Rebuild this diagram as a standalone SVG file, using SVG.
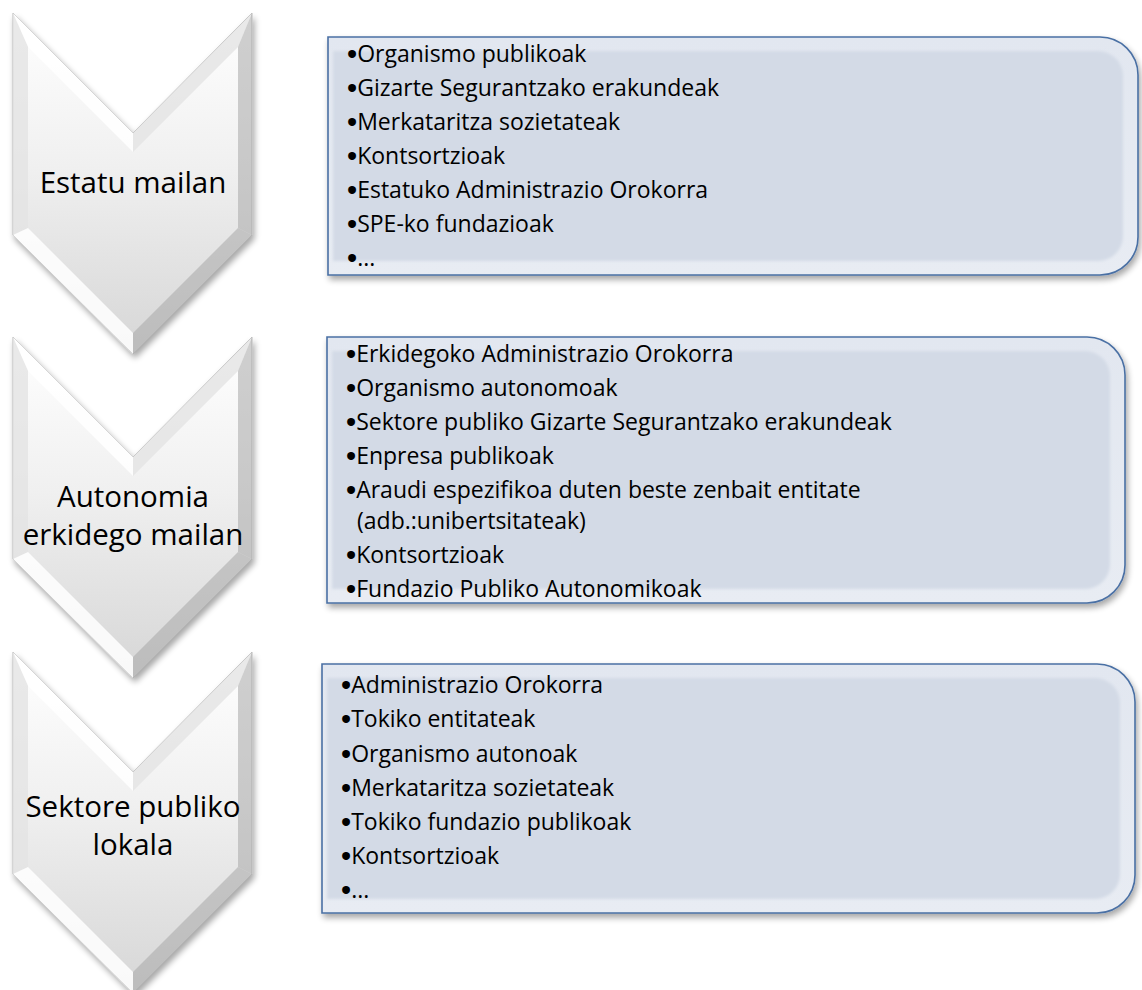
<svg xmlns="http://www.w3.org/2000/svg" width="1142" height="990" viewBox="0 0 1142 990">
<defs>
<linearGradient id="chevG" x1="0" y1="0" x2="0" y2="1">
<stop offset="0" stop-color="#ffffff"/>
<stop offset="0.45" stop-color="#f0f0f0"/>
<stop offset="1" stop-color="#d6d6d6"/>
</linearGradient>
<linearGradient id="boxOuter" x1="0" y1="0" x2="0" y2="1">
<stop offset="0" stop-color="#e2e7f0"/>
<stop offset="1" stop-color="#e8ecf3"/>
</linearGradient>
<filter id="sh" x="-10%" y="-10%" width="130%" height="130%">
<feGaussianBlur in="SourceAlpha" stdDeviation="3"/>
<feOffset dx="2" dy="4" result="b"/>
<feComponentTransfer><feFuncA type="linear" slope="0.35"/></feComponentTransfer>
<feMerge><feMergeNode/><feMergeNode in="SourceGraphic"/></feMerge>
</filter>
<filter id="soft" x="-5%" y="-5%" width="110%" height="110%">
<feGaussianBlur stdDeviation="1.5"/>
</filter>
</defs>
<style>
.lbl{font-family:"Open Sans","DejaVu Sans",sans-serif;font-size:29.5px;fill:#000;text-anchor:middle}
.it{font-family:"Open Sans","DejaVu Sans",sans-serif;font-size:23px;fill:#000}
.b{font-family:"Liberation Sans",Arial,sans-serif;font-size:29px;baseline-shift:-2px}
.bo{fill:url(#boxOuter);stroke:#4a70a4;stroke-width:1.6}
.bi{fill:#d3dae6}
.co{fill:url(#chevG);stroke:#b8b8b8;stroke-width:1}
.fl{fill:#ffffff;opacity:0.85}
.fd{fill:#a8a8a8;opacity:0.55}
.fm{fill:#e4e4e4;opacity:0.8}
</style>

<g id="connectors"></g>

<g id="chevron1">
<g filter="url(#sh)">
<polygon class="co" points="13,13 133,133 252,13 252,235 133,354 13,235"/>
</g>
<polygon class="fl" points="13,13 133,133 133,152 28,47"/>
<polygon class="fm" points="252,13 133,133 133,152 238,47"/>
<polygon class="fm" points="13,13 28,47 28,228 13,235"/>
<polygon class="fd" points="252,13 238,47 238,228 252,235" opacity="0.3"/>
<polygon class="fl" points="13,235 28,228 133,333 133,354"/>
<polygon class="fd" points="252,235 238,228 133,333 133,354"/>
<text class="lbl" x="133" y="193">Estatu mailan</text>
</g>

<g id="chevron2">
<g filter="url(#sh)">
<polygon class="co" points="13,337 133,457 252,337 252,559 133,678 13,559"/>
</g>
<polygon class="fl" points="13,337 133,457 133,476 28,371"/>
<polygon class="fm" points="252,337 133,457 133,476 238,371"/>
<polygon class="fm" points="13,337 28,371 28,552 13,559"/>
<polygon class="fd" points="252,337 238,371 238,552 252,559" opacity="0.3"/>
<polygon class="fl" points="13,559 28,552 133,657 133,678"/>
<polygon class="fd" points="252,559 238,552 133,657 133,678"/>
<text class="lbl" x="133" y="507">Autonomia</text>
<text class="lbl" x="133" y="545">erkidego mailan</text>
</g>

<g id="chevron3">
<g filter="url(#sh)">
<polygon class="co" points="13,652 133,772 252,652 252,874 133,993 13,874"/>
</g>
<polygon class="fl" points="13,652 133,772 133,791 28,686"/>
<polygon class="fm" points="252,652 133,772 133,791 238,686"/>
<polygon class="fm" points="13,652 28,686 28,867 13,874"/>
<polygon class="fd" points="252,652 238,686 238,867 252,874" opacity="0.3"/>
<polygon class="fl" points="13,874 28,867 133,972 133,993"/>
<polygon class="fd" points="252,874 238,867 133,972 133,993"/>
<text class="lbl" x="133" y="817">Sektore publiko</text>
<text class="lbl" x="133" y="855">lokala</text>
</g>

<g id="box1">
<path class="bo" filter="url(#sh)" d="M328,37 H1100 A38,38 0 0 1 1138,75 V237 A38,38 0 0 1 1100,275 H328 Z"/>
<path class="bi" filter="url(#soft)" d="M333,51 H1098 A25,25 0 0 1 1123,76 V236 A25,25 0 0 1 1098,261 H333 Z"/>
<text class="it" x="347" y="62"><tspan class="b">•</tspan>Organismo publikoak</text>
<text class="it" x="347" y="96"><tspan class="b">•</tspan>Gizarte Segurantzako erakundeak</text>
<text class="it" x="347" y="130"><tspan class="b">•</tspan>Merkataritza sozietateak</text>
<text class="it" x="347" y="164"><tspan class="b">•</tspan>Kontsortzioak</text>
<text class="it" x="347" y="198"><tspan class="b">•</tspan>Estatuko Administrazio Orokorra</text>
<text class="it" x="347" y="232"><tspan class="b">•</tspan>SPE-ko fundazioak</text>
<text class="it" x="347" y="266"><tspan class="b">•</tspan>...</text>
</g>

<g id="box2">
<path class="bo" filter="url(#sh)" d="M327,337 H1087 A38,38 0 0 1 1125,375 V565 A38,38 0 0 1 1087,603 H327 Z"/>
<path class="bi" filter="url(#soft)" d="M332,351 H1085 A25,25 0 0 1 1110,376 V564 A25,25 0 0 1 1085,589 H332 Z"/>
<text class="it" x="346" y="362"><tspan class="b">•</tspan>Erkidegoko Administrazio Orokorra</text>
<text class="it" x="346" y="396"><tspan class="b">•</tspan>Organismo autonomoak</text>
<text class="it" x="346" y="430"><tspan class="b">•</tspan>Sektore publiko Gizarte Segurantzako erakundeak</text>
<text class="it" x="346" y="464"><tspan class="b">•</tspan>Enpresa publikoak</text>
<text class="it" x="346" y="498"><tspan class="b">•</tspan>Araudi espezifikoa duten beste zenbait entitate</text>
<text class="it" x="357" y="529">(adb.:unibertsitateak)</text>
<text class="it" x="346" y="563"><tspan class="b">•</tspan>Kontsortzioak</text>
<text class="it" x="346" y="597"><tspan class="b">•</tspan>Fundazio Publiko Autonomikoak</text>
</g>

<g id="box3">
<path class="bo" filter="url(#sh)" d="M322,664 H1097 A38,38 0 0 1 1135,702 V875 A38,38 0 0 1 1097,913 H322 Z"/>
<path class="bi" filter="url(#soft)" d="M327,678 H1095 A25,25 0 0 1 1120,703 V874 A25,25 0 0 1 1095,899 H327 Z"/>
<text class="it" x="341" y="693"><tspan class="b">•</tspan>Administrazio Orokorra</text>
<text class="it" x="341" y="727"><tspan class="b">•</tspan>Tokiko entitateak</text>
<text class="it" x="341" y="762"><tspan class="b">•</tspan>Organismo autonoak</text>
<text class="it" x="341" y="796"><tspan class="b">•</tspan>Merkataritza sozietateak</text>
<text class="it" x="341" y="830"><tspan class="b">•</tspan>Tokiko fundazio publikoak</text>
<text class="it" x="341" y="864"><tspan class="b">•</tspan>Kontsortzioak</text>
<text class="it" x="341" y="898"><tspan class="b">•</tspan>...</text>
</g>
</svg>
